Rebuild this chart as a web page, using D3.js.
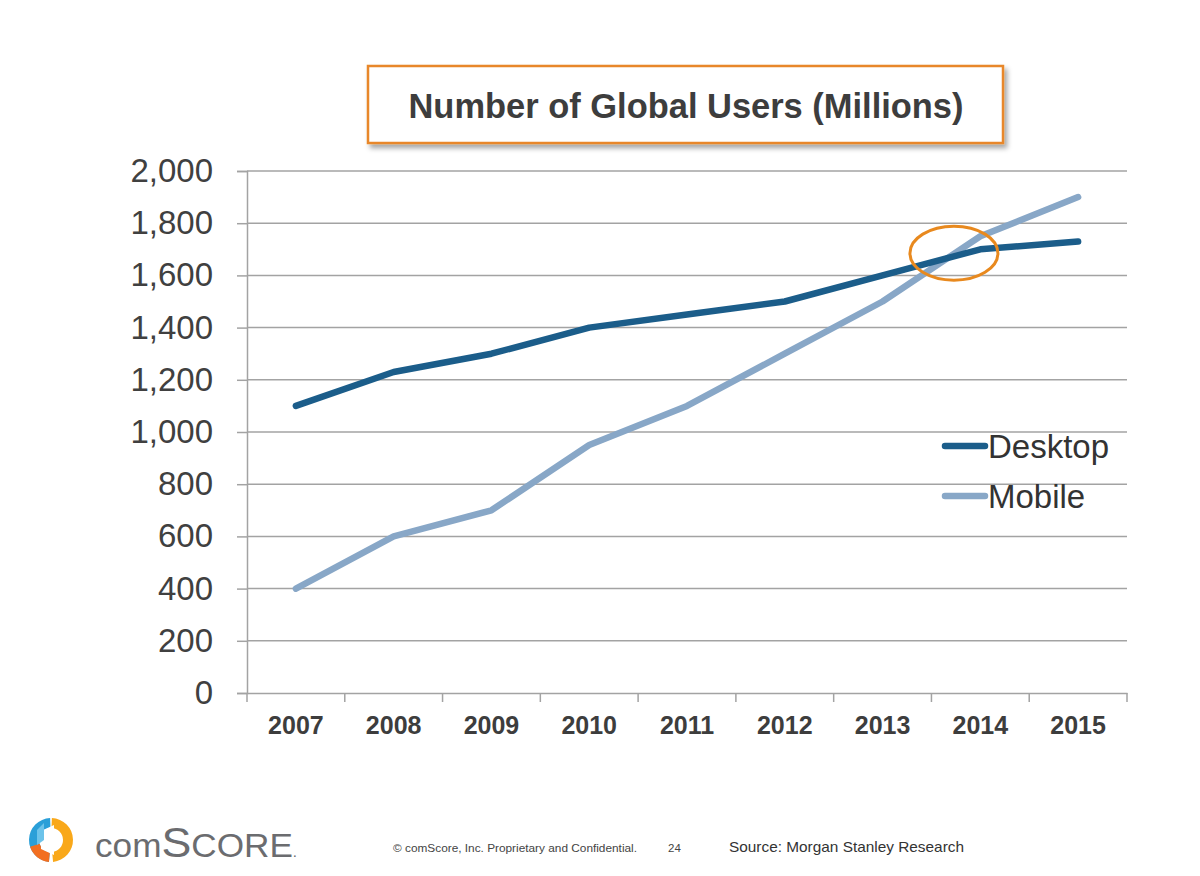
<!DOCTYPE html>
<html>
<head>
<meta charset="utf-8">
<script src="https://cdn.jsdelivr.net/npm/d3@7"></script>
<style>
  html, body { margin: 0; padding: 0; background: #fff; }
  svg { display: block; }
</style>
</head>
<body>
<div id="wrapper"></div>
<script>
const years = [2007, 2008, 2009, 2010, 2011, 2012, 2013, 2014, 2015];
const desktop = [1100, 1230, 1300, 1400, 1450, 1500, 1600, 1700, 1730];
const mobile = [400, 600, 700, 950, 1100, 1300, 1500, 1750, 1900];
const yTicks = [0, 200, 400, 600, 800, 1000, 1200, 1400, 1600, 1800, 2000];
const seriesNames = ['Desktop', 'Mobile'];
const crossing = { year: 2013.73, value: 1685 };

const W = 1200, H = 876;
const FONT = "'Liberation Sans', Arial, Helvetica, sans-serif";
const COLORS = { Desktop: '#1b5d8a', Mobile: '#88a7c7' };

const svg = d3.select('#wrapper').append('svg')
  .attr('width', W)
  .attr('height', H);

const defs = svg.append('defs');
const shadow = defs.append('filter').attr('id', 'shadow')
  .attr('x', '-5%').attr('y', '-20%').attr('width', '115%').attr('height', '160%');
shadow.append('feDropShadow')
  .attr('dx', 3).attr('dy', 4).attr('stdDeviation', 2.5)
  .attr('flood-color', '#000').attr('flood-opacity', 0.35);

// title box
svg.append('rect')
  .attr('x', 368).attr('y', 66).attr('width', 635).attr('height', 77)
  .attr('fill', '#fff')
  .attr('stroke', '#e8872b')
  .attr('stroke-width', 2.5)
  .attr('filter', 'url(#shadow)');

svg.append('text')
  .attr('x', 686).attr('y', 118)
  .attr('text-anchor', 'middle')
  .attr('font-family', FONT)
  .attr('font-weight', 'bold')
  .attr('font-size', 35)
  .attr('fill', '#3d3d3d')
  .attr('textLength', 555)
  .attr('lengthAdjust', 'spacingAndGlyphs')
  .text('Number of Global Users (Millions)');

// scales
const x = d3.scaleBand().domain(years).range([247, 1127]).padding(0);
const y = d3.scaleLinear().domain([0, 2000]).range([693, 171]);
const xc = d => x(d) + x.bandwidth() / 2;
const yearLin = d3.scaleLinear().domain([years[0], years[years.length - 1]])
  .range([xc(years[0]), xc(years[years.length - 1])]);

// gridlines
svg.append('g')
  .selectAll('line')
  .data(yTicks.filter(t => t > 0))
  .join('line')
  .attr('x1', 247).attr('x2', 1127)
  .attr('y1', d => y(d)).attr('y2', d => y(d))
  .attr('stroke', '#a3a3a3')
  .attr('stroke-width', 1.5);

// y axis
const yAxis = svg.append('g')
  .attr('transform', 'translate(247,0)')
  .call(d3.axisLeft(y).tickValues(yTicks).tickFormat(d3.format(',')).tickSize(10).tickPadding(24));
yAxis.select('.domain').attr('stroke', '#a3a3a3').attr('stroke-width', 1.5);
yAxis.selectAll('.tick line').attr('stroke', '#a3a3a3').attr('stroke-width', 1.5);
yAxis.selectAll('.tick text')
  .attr('font-family', FONT)
  .attr('font-size', 33)
  .attr('fill', '#404040');

// x axis
const xAxis = svg.append('g')
  .attr('transform', `translate(0,${y(0)})`)
  .call(d3.axisBottom(x).tickSize(0).tickPadding(23));
xAxis.select('.domain').attr('stroke', '#a3a3a3').attr('stroke-width', 1.5);
xAxis.selectAll('.tick text')
  .attr('font-family', FONT)
  .attr('font-weight', 'bold')
  .attr('font-size', 25)
  .attr('fill', '#3d3d3d');
xAxis.append('g')
  .selectAll('line')
  .data(years.concat([null]))
  .join('line')
  .attr('x1', (d, i) => 247 + i * x.bandwidth())
  .attr('x2', (d, i) => 247 + i * x.bandwidth())
  .attr('y1', 0).attr('y2', 9)
  .attr('stroke', '#a3a3a3')
  .attr('stroke-width', 1.5);

// lines
const series = [
  { name: 'Desktop', values: desktop },
  { name: 'Mobile', values: mobile }
];
const line = d3.line()
  .x((d, i) => xc(years[i]))
  .y(d => y(d));

svg.append('g')
  .selectAll('path')
  .data(series.slice().reverse())
  .join('path')
  .attr('d', d => line(d.values))
  .attr('fill', 'none')
  .attr('stroke', d => COLORS[d.name])
  .attr('stroke-width', 6.5)
  .attr('stroke-linecap', 'round')
  .attr('stroke-linejoin', 'round');

// crossing highlight
svg.append('ellipse')
  .attr('cx', yearLin(crossing.year))
  .attr('cy', y(crossing.value))
  .attr('rx', 44).attr('ry', 27)
  .attr('fill', 'none')
  .attr('stroke', '#e8891e')
  .attr('stroke-width', 3);

// legend
const legend = svg.append('g').selectAll('g')
  .data(seriesNames)
  .join('g')
  .attr('transform', (d, i) => `translate(945,${446 + i * 50})`);
legend.append('line')
  .attr('x1', 0).attr('x2', 40)
  .attr('stroke', d => COLORS[d])
  .attr('stroke-width', 6.5)
  .attr('stroke-linecap', 'round');
legend.append('text')
  .attr('x', 43).attr('y', 12)
  .attr('font-family', FONT)
  .attr('font-size', 33)
  .attr('fill', '#333')
  .text(d => d);

// footer: logo
const logo = svg.append('g').attr('transform', 'translate(51,840)');
const arc = d3.arc().innerRadius(12).outerRadius(22);
logo.append('path').attr('d', arc({ startAngle: -Math.PI * 0.97, endAngle: -0.04 })).attr('fill', '#2a9fd8');
logo.append('path').attr('d', arc({ startAngle: 0.04, endAngle: Math.PI * 0.97 })).attr('fill', '#f9a81a');
logo.append('path').attr('d', arc({ startAngle: Math.PI * 1.03, endAngle: Math.PI * 1.4 })).attr('fill', '#f26f21');
logo.append('path')
  .attr('d', 'M-10,-9 L3,-15 L3,15 L-10,9 Z')
  .attr('fill', '#fff');
logo.append('path')
  .attr('d', 'M-14,-10 L-7,-17 L-7,0 L-14,5 Z')
  .attr('fill', '#6cc3ea');

const brand = svg.append('text')
  .attr('x', 95).attr('y', 857)
  .attr('font-family', FONT)
  .attr('fill', '#6b6c6f')
  .attr('textLength', 202)
  .attr('lengthAdjust', 'spacingAndGlyphs');
brand.append('tspan').attr('font-size', 33).text('com');
brand.append('tspan').attr('font-size', 42).text('S');
brand.append('tspan').attr('font-size', 33).text('CORE');
brand.append('tspan').attr('font-size', 14).text('.');

// footer texts
svg.append('text')
  .attr('x', 393).attr('y', 852)
  .attr('font-family', FONT)
  .attr('font-size', 11.5)
  .attr('fill', '#444')
  .attr('textLength', 244)
  .attr('lengthAdjust', 'spacingAndGlyphs')
  .text('\u00a9 comScore, Inc.  Proprietary and Confidential.');

svg.append('text')
  .attr('x', 668).attr('y', 852)
  .attr('font-family', FONT)
  .attr('font-size', 11.5)
  .attr('fill', '#444')
  .text('24');

svg.append('text')
  .attr('x', 729).attr('y', 852)
  .attr('font-family', FONT)
  .attr('font-size', 15)
  .attr('fill', '#333')
  .attr('textLength', 235)
  .attr('lengthAdjust', 'spacingAndGlyphs')
  .text('Source: Morgan Stanley Research');
</script>
</body>
</html>
